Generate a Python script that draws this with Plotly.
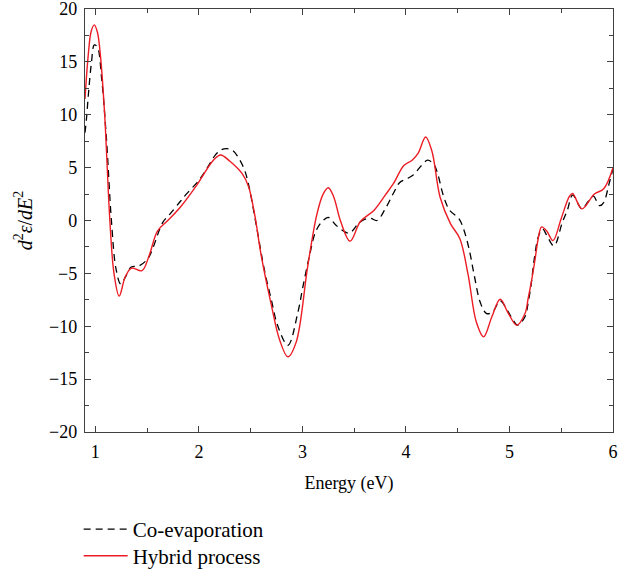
import plotly.graph_objects as go

# Co-evaporation (black dashed)
co_x = [0.90, 0.913, 0.936, 0.962, 0.99, 1.02, 1.06, 1.106, 1.155, 1.20, 1.245, 1.293, 1.347,
        1.42, 1.508, 1.556, 1.65, 1.72, 1.82, 1.87, 2.0, 2.07, 2.16, 2.22, 2.27, 2.33, 2.39,
        2.44, 2.48, 2.55, 2.633, 2.70, 2.763, 2.86, 2.956, 3.004, 3.067, 3.13, 3.20, 3.25,
        3.33, 3.45, 3.54, 3.60, 3.66, 3.72, 3.80, 3.88, 3.94, 4.0, 4.07, 4.15, 4.21, 4.27,
        4.31, 4.36, 4.42, 4.51, 4.555, 4.61, 4.66, 4.72, 4.78, 4.84, 4.91, 4.98, 5.04, 5.08,
        5.15, 5.18, 5.21, 5.24, 5.28, 5.32, 5.36, 5.43, 5.51, 5.56, 5.61, 5.70, 5.76, 5.81,
        5.87, 5.91, 5.96, 6.0]
co_y = [8.3, 9.5, 12.3, 14.9, 16.6, 16.4, 13.5, 7.9, 0.0, -4.6, -6.0, -5.3, -4.4,
        -4.3, -3.6, -2.6, -0.2, 0.6, 1.8, 2.4, 3.8, 4.8, 6.2, 6.7, 6.8, 6.6, 5.8,
        4.8, 3.4, -0.2, -4.7, -7.5, -10.0, -11.8, -8.7, -6.3, -3.4, -1.0, 0.0, 0.3,
        -0.5, -1.2, -0.3, 0.1, 0.2, 0.0, 1.1, 2.6, 3.6, 3.9, 4.3, 5.2, 5.7, 5.3,
        4.3, 2.4, 1.0, 0.2, -0.75, -2.7, -5.2, -7.8, -8.8, -8.6, -7.6, -8.5, -9.5, -9.9,
        -9.1, -7.8, -6.0, -3.6, -1.5, -0.8, -1.4, -2.4, -0.2, 1.0, 2.4, 1.1, 1.8, 2.3,
        1.4, 1.7, 3.4, 4.9]

# Hybrid process (red)
hy_x = [0.90, 0.93, 0.96, 0.99, 1.02, 1.05, 1.09, 1.14, 1.18, 1.23, 1.29, 1.35, 1.45, 1.52,
        1.60, 1.70, 1.82, 1.98, 2.14, 2.21, 2.30, 2.42, 2.48, 2.54, 2.60, 2.70, 2.78, 2.86,
        2.94, 3.05, 3.14, 3.20, 3.25, 3.30, 3.37, 3.46, 3.56, 3.69, 3.80, 3.88, 3.98, 4.06,
        4.12, 4.19, 4.25, 4.33, 4.43, 4.52, 4.60, 4.68, 4.75, 4.83, 4.91, 4.99, 5.07, 5.15,
        5.18, 5.215, 5.246, 5.278, 5.31, 5.36, 5.42, 5.50, 5.58, 5.61, 5.70, 5.82, 5.91, 6.00]
hy_y = [11.5, 15.5, 17.9, 18.5, 17.8, 15.5, 10.0, 0.0, -5.0, -7.15, -5.3, -4.5, -4.75, -3.3,
        -1.0, 0.0, 1.26, 3.35, 5.7, 6.2, 5.6, 4.4, 3.2, 0.5, -3.2, -8.0, -11.3, -12.9,
        -11.5, -4.4, 0.6, 2.5, 3.1, 2.3, -0.1, -1.95, -0.1, 0.95, 2.4, 3.5, 5.2, 5.7,
        6.4, 7.9, 6.6, 2.2, -0.3, -1.7, -5.1, -9.6, -11.0, -9.1, -7.45, -8.8, -9.9, -8.8,
        -7.4, -5.6, -3.75, -1.7, -0.6, -1.0, -1.9, 0.2, 2.3, 2.55, 1.1, 2.5, 3.0, 5.0]

x_ticks = [1, 2, 3, 4, 5, 6]
y_ticks = [-20, -15, -10, -5, 0, 5, 10, 15, 20]

FONT = "Liberation Serif"
AXC = "#404040"

fig = go.Figure()
fig.add_trace(go.Scatter(x=co_x, y=co_y, mode="lines", name="Co-evaporation", legend="legend",
                         line=dict(color="black", width=1.3, dash="7px,5px", shape="spline", smoothing=1.0)))
fig.add_trace(go.Scatter(x=hy_x, y=hy_y, mode="lines", name="Hybrid process", legend="legend2",
                         line=dict(color="#ec1c24", width=1.4, shape="spline", smoothing=1.0)))

leg_common = dict(xanchor="left", yanchor="top", font=dict(family=FONT, size=21, color="black"),
                  bgcolor="rgba(0,0,0,0)", itemwidth=44)
fig.update_layout(
    width=632, height=569,
    margin=dict(l=85, r=19, t=9, b=137, autoexpand=False),
    paper_bgcolor="white", plot_bgcolor="white",
    font=dict(family=FONT, size=18, color="black"),
    showlegend=True,
    legend=dict(x=-0.012, y=-0.182, **leg_common),
    legend2=dict(x=-0.012, y=-0.245, **leg_common),
)
fig.update_xaxes(range=[0.9, 6], tickmode="array", tickvals=x_ticks, automargin=False,
                 ticks="inside", ticklen=6, tickwidth=1.2, tickcolor=AXC,
                 minor=dict(dtick=0.5, tick0=0.5, ticks="inside", ticklen=4, tickwidth=1.2, tickcolor=AXC),
                 showline=True, linecolor=AXC, linewidth=1.3, mirror="ticks",
                 showgrid=False, zeroline=False, ticklabeloverflow="allow", ticklabelstandoff=3,
                 title=dict(text="Energy (eV)", font=dict(family=FONT, size=18), standoff=15),
                 tickfont=dict(family=FONT, size=18))
fig.update_yaxes(range=[-20, 20], tickmode="array", tickvals=y_ticks, automargin=False,
                 ticks="inside", ticklen=6, tickwidth=1.2, tickcolor=AXC,
                 minor=dict(dtick=2.5, tick0=0, ticks="inside", ticklen=4, tickwidth=1.2, tickcolor=AXC),
                 showline=True, linecolor=AXC, linewidth=1.3, mirror="ticks",
                 showgrid=False, zeroline=False, ticklabeloverflow="allow", ticklabelstandoff=3,
                 title=dict(text="<i>d</i><sup>2</sup><i>ε</i>/<i>dE</i><sup>2</sup>",
                            font=dict(family=FONT, size=20), standoff=11),
                 tickfont=dict(family=FONT, size=18))

fig.write_html("out.html", config={"displayModeBar": False},
               post_script="document.body.style.margin='0px';")
